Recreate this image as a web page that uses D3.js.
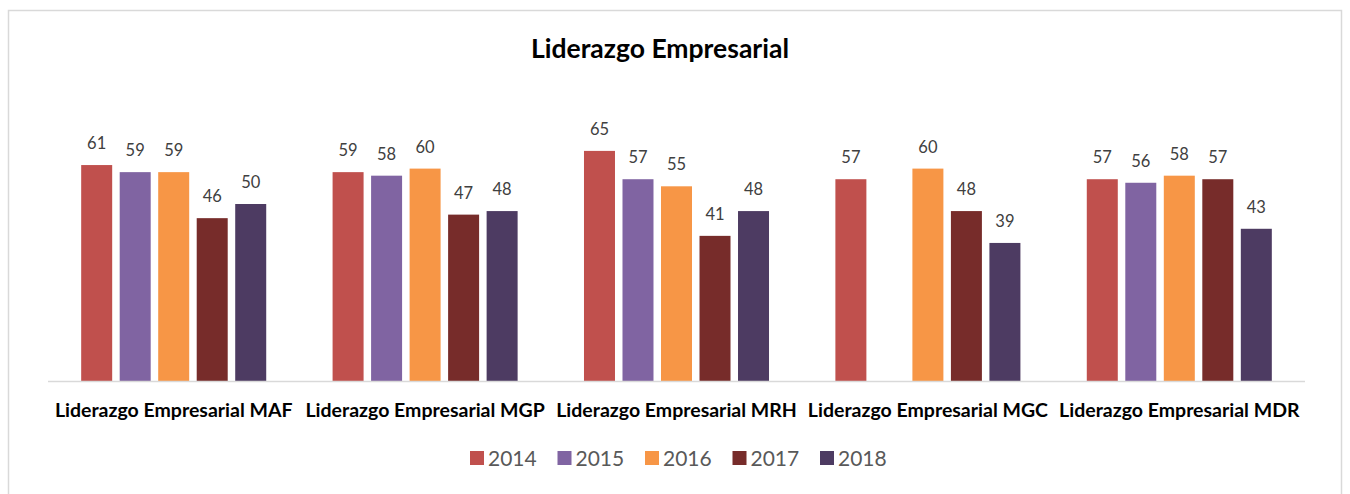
<!DOCTYPE html>
<html>
<head>
<meta charset="utf-8">
<script src="https://cdn.jsdelivr.net/npm/d3@7"></script>
<style>
  html, body {margin: 0; padding: 0; background: #fff;}
  svg {display: block;}
  text {font-family: Lato, "Open Sans", sans-serif;}
</style>
</head>
<body>
<svg id="chart" width="1350" height="494"></svg>
<script>
const categories = [
  "Liderazgo Empresarial MAF",
  "Liderazgo Empresarial MGP",
  "Liderazgo Empresarial MRH",
  "Liderazgo Empresarial MGC",
  "Liderazgo Empresarial MDR"
];
const years = ["2014", "2015", "2016", "2017", "2018"];
const colors = ["#C0504D", "#8064A2", "#F79646", "#772C2A", "#4D3B62"];

// one array per year, in category order (null = no bar)
const v2014 = [61, 59, 65, 57, 57];
const v2015 = [59, 58, 57, null, 56];
const v2016 = [59, 60, 55, 60, 58];
const v2017 = [46, 47, 41, 48, 57];
const v2018 = [50, 48, 48, 39, 43];
const series = [v2014, v2015, v2016, v2017, v2018];

const title = "Liderazgo Empresarial";

const svg = d3.select("#chart");
const baseline = 381;

// chart frame
svg.append("rect")
  .attr("x", 8.5).attr("y", 10.5)
  .attr("width", 1333).attr("height", 500)
  .attr("fill", "#fff")
  .attr("stroke", "#d9d9d9")
  .attr("stroke-width", 1.5);

svg.append("text")
  .attr("x", 660).attr("y", 57.5)
  .attr("text-anchor", "middle")
  .attr("font-size", 26.5)
  .attr("font-weight", "bold")
  .attr("fill", "#000")
  .text(title);

const x0 = d3.scaleBand().domain(categories).range([48, 1305]).paddingInner(0.264).paddingOuter(0.132);
const x1 = d3.scaleBand().domain(years).range([0, x0.bandwidth()]).paddingInner(0.195);
const y = d3.scaleLinear().domain([0, 70]).range([baseline, baseline - 70 * 3.54]);

const rows = [];
categories.forEach((c, i) => {
  years.forEach((yr, j) => {
    const v = series[j][i];
    if (v != null) rows.push({c, yr, v, color: colors[j]});
  });
});

const bars = svg.append("g");
bars.selectAll("rect")
  .data(rows)
  .join("rect")
  .attr("x", d => x0(d.c) + x1(d.yr))
  .attr("y", d => y(d.v))
  .attr("width", x1.bandwidth())
  .attr("height", d => y(0) - y(d.v))
  .attr("fill", d => d.color);

bars.selectAll("text")
  .data(rows)
  .join("text")
  .attr("x", d => x0(d.c) + x1(d.yr) + x1.bandwidth() / 2)
  .attr("y", d => y(d.v) - 16)
  .attr("text-anchor", "middle")
  .attr("font-size", 16.5)
  .attr("fill", "#404040")
  .text(d => d.v);

// category axis
const axis = svg.append("g").attr("transform", `translate(0,${baseline})`)
  .call(d3.axisBottom(x0).tickSize(0).tickPadding(22));
axis.select(".domain").attr("stroke", "#d9d9d9").attr("stroke-width", 1.5)
  .attr("d", "M48,0.5H1305");
axis.selectAll("text")
  .attr("font-size", 19.5)
  .attr("font-weight", "bold")
  .attr("fill", "#000")
  .attr("font-family", "Lato, sans-serif");

// legend
const legend = svg.append("g");
const lx = d3.scalePoint().domain(years).range([470, 820]);
const item = legend.selectAll("g")
  .data(years)
  .join("g")
  .attr("transform", d => `translate(${lx(d)},451)`);
item.append("rect")
  .attr("width", 14).attr("height", 14)
  .attr("fill", (d, i) => colors[i]);
item.append("text")
  .attr("x", 18).attr("y", 14.5)
  .attr("font-size", 21)
  .attr("fill", "#595959")
  .text(d => d);
</script>
</body>
</html>
